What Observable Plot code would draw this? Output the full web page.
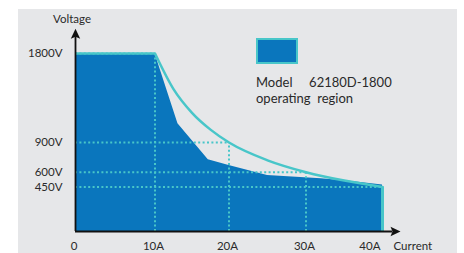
<!DOCTYPE html>
<html><head><meta charset="utf-8">
<script src="https://cdn.jsdelivr.net/npm/d3@7"></script>
<script src="https://cdn.jsdelivr.net/npm/@observablehq/plot@0.6"></script>
<style>
html,body{margin:0;padding:0;background:#fff;}
#wrap{position:relative;width:464px;height:253px;overflow:hidden;}
#card{position:absolute;left:18px;top:9px;width:439px;height:244px;background:#e6e7e9;}
#chart{position:absolute;left:0;top:0;}
#legend{position:absolute;left:256px;top:38px;font-family:Lato;font-size:13px;color:#2a2a2a;line-height:16px;}
#legend .sw{box-sizing:border-box;width:42px;height:26px;background:#0a76bd;border:2px solid #48c6c9;margin-bottom:10px;}
#legend .t{white-space:pre;}
</style></head><body>
<div id="wrap"><div id="card"></div><div id="chart"></div>
<div id="legend"><div class="sw"></div><div class="t" id="legtext"></div></div>
</div>
<script>
// Data
const currentTicks = [0, 10, 20, 30, 40];
const voltageTicks = [450, 600, 900, 1800];
const ratedI = [10, 20, 30, 40];
const ratedV = [1800, 900, 600, 450];
const curveI = [10, 12.5, 15, 17.5, 20, 25, 30, 35, 40];
const curveV = [1800, 1440, 1200, 1030, 900, 720, 600, 515, 450];
const regionI = [0, 10, 13.1, 17.2, 20, 25, 32, 36, 40];
const regionV = [1800, 1800, 1090, 725, 667, 566, 533, 505, 470];
const legendLines = ["Model     62180D-1800", "operating  region"];
const xAxisEnd = 42.3;
const yAxisEnd = 2050;

document.getElementById("legtext").textContent = legendLines.join("\n");

const rated = ratedI.map((I, i) => ({I, V: ratedV[i]}));
const curve = curveI.map((I, i) => ({I, V: curveV[i]}));
const region = regionI.map((I, i) => ({I, V: regionV[i]}));

const blue = "#0a76bd", cyan = "#48c6c9", ink = "#2a2a2a";
const arrowHead = {draw(ctx) { ctx.moveTo(0, 0); ctx.lineTo(4.7, 10); ctx.lineTo(0, 8); ctx.lineTo(-4.7, 10); ctx.closePath(); }};

const chart = Plot.plot({
  width: 464, height: 253,
  style: {background: "transparent", fontFamily: "Lato", fontSize: "11.5px", color: ink, overflow: "visible"},
  x: {type: "linear", domain: [0, 10, 20, 30, 40, xAxisEnd], range: [75, 154.5, 228.5, 305.5, 382, 400], axis: null},
  y: {type: "linear", domain: [0, 1800], range: [231, 53], axis: null},
  marks: [
    Plot.areaY(region, {x: "I", y: "V", fill: blue}),
    Plot.ruleY(rated, {y: "V", x1: 0, x2: "I", stroke: cyan, strokeWidth: 2, strokeDasharray: "2,2.4"}),
    Plot.ruleX(rated, {x: "I", y1: 0, y2: "V", stroke: cyan, strokeWidth: 2, strokeDasharray: "2,2.4"}),
    Plot.line(curve, {x: "I", y: "V", stroke: cyan, strokeWidth: 2.5, curve: "monotone-x"}),
    Plot.ruleY(rated.slice(0, 1), {y: "V", x1: 0, x2: "I", stroke: cyan, strokeWidth: 2.5}),
    Plot.ruleX(rated.slice(-1), {x: "I", y1: 0, y2: "V", stroke: cyan, strokeWidth: 3}),
    Plot.ruleX([0], {y1: 0, y2: yAxisEnd - 80, stroke: "#111", strokeWidth: 1.8}),
    Plot.ruleY([0], {x1: 0, x2: xAxisEnd - 1, stroke: "#111", strokeWidth: 1.8}),
    Plot.dot([yAxisEnd], {x: 0, y: d => d, symbol: arrowHead, r: 5, fill: "#111", rotate: 0}),
    Plot.dot([xAxisEnd], {x: d => d, y: 0, symbol: arrowHead, r: 5, fill: "#111", rotate: 90}),
    Plot.text(voltageTicks, {x: 0, y: d => d, text: d => d + "V", textAnchor: "end", dx: -13, fill: ink}),
    Plot.text(currentTicks.slice(0, -1), {x: d => d, y: 0, text: d => d === 0 ? "0" : d + "A", dx: -1.5, dy: 15, fill: ink}),
    Plot.text(currentTicks.slice(-1), {x: d => d, y: 0, text: d => d + "A", textAnchor: "end", dx: -2, dy: 15, fill: ink}),
    Plot.text(["Voltage"], {x: 0, y: yAxisEnd, text: d => d, dx: -3.5, dy: -9, fill: ink}),
    Plot.text(["Current"], {x: xAxisEnd, y: 0, text: d => d, textAnchor: "start", dx: -7, dy: 15, fill: ink})
  ]
});
document.getElementById("chart").appendChild(chart);
</script>
</body></html>
